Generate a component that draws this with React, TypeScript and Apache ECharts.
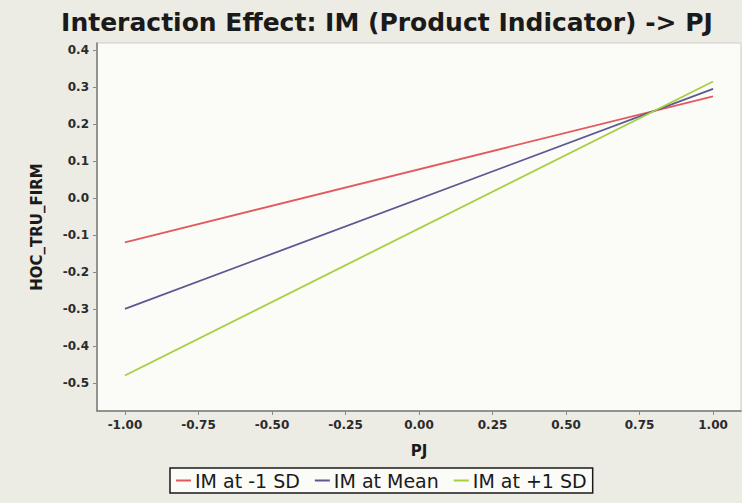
import React, { useEffect, useRef } from "react";
import * as echarts from "echarts";

const xValues = [-1, 1];
const lowSD = [-0.12, 0.275];
const meanIM = [-0.3, 0.295];
const highSD = [-0.48, 0.315];
const seriesNames = ["IM at -1 SD", "IM at Mean", "IM at +1 SD"];
const xTicks = [-1, -0.75, -0.5, -0.25, 0, 0.25, 0.5, 0.75, 1];
const yTicks = [-0.5, -0.4, -0.3, -0.2, -0.1, 0, 0.1, 0.2, 0.3, 0.4];

export default function App() {
  const ref = useRef<HTMLDivElement>(null);
  useEffect(() => {
    if (!ref.current) return;
    const chart = echarts.init(ref.current, undefined, { renderer: "svg" });
    const font = "DejaVu Sans";
    const mk = (vals: number[]) => xValues.map((x, i) => [x, vals[i]]);
    chart.setOption({
      animation: false,
      backgroundColor: "#ecebe4",
      title: {
        text: "Interaction Effect: IM (Product Indicator) -> PJ",
        left: 382,
        textAlign: "center",
        top: 5,
        textStyle: { fontFamily: font, fontWeight: "bold", fontSize: 25, color: "#1a1a1a" },
      },
      legend: {
        left: 170,
        top: 468,
        data: seriesNames,
        icon: "rect",
        itemWidth: 15,
        itemHeight: 2,
        itemGap: 15,
        borderColor: "#1a1a1a",
        borderWidth: 1.5,
        backgroundColor: "#fbfbf8",
        padding: [3, 6, 3, 6],
        textStyle: { fontFamily: font, fontSize: 19, color: "#1a1a1a", padding: [0, 0, 0, -1] },
      },
      grid: {
        left: 97,
        top: 43,
        right: 1,
        bottom: 92,
        show: true,
        backgroundColor: "#fbfbf8",
        borderColor: "#cfcfc8",
        borderWidth: 1,
      },
      xAxis: {
        type: "value",
        min: -1.095,
        max: 1.095,
        name: "PJ",
        nameLocation: "middle",
        nameGap: 32,
        nameTextStyle: { fontFamily: font, fontWeight: "bold", fontSize: 15, color: "#1a1a1a" },
        axisLine: { show: true, onZero: false, lineStyle: { color: "#777", width: 1.5 } },
        axisTick: { show: true, customValues: xTicks, length: 4, lineStyle: { color: "#888" } },
        axisLabel: {
          customValues: xTicks,
          formatter: (v: number) => v.toFixed(2),
          fontFamily: font,
          fontWeight: "bold",
          fontSize: 12,
          color: "#2a2a2a",
          margin: 8,
        },
        splitLine: { show: false },
      },
      yAxis: {
        type: "value",
        min: -0.576,
        max: 0.419,
        name: "HOC_TRU_FIRM",
        nameLocation: "middle",
        nameGap: 53,
        nameTextStyle: { fontFamily: font, fontWeight: "bold", fontSize: 15, color: "#1a1a1a" },
        axisLine: { show: true, onZero: false, lineStyle: { color: "#777", width: 1.5 } },
        axisTick: { show: true, customValues: yTicks, length: 4, lineStyle: { color: "#888" } },
        axisLabel: {
          customValues: yTicks,
          formatter: (v: number) => v.toFixed(1),
          fontFamily: font,
          fontWeight: "bold",
          fontSize: 12,
          color: "#2a2a2a",
          margin: 8,
        },
        splitLine: { show: false },
      },
      series: [
        { name: seriesNames[0], type: "line", data: mk(lowSD), showSymbol: false, lineStyle: { color: "#e25a5e", width: 1.8 }, itemStyle: { color: "#e25a5e" } },
        { name: seriesNames[1], type: "line", data: mk(meanIM), showSymbol: false, lineStyle: { color: "#5b5894", width: 1.8 }, itemStyle: { color: "#5b5894" } },
        { name: seriesNames[2], type: "line", data: mk(highSD), showSymbol: false, lineStyle: { color: "#a6cf3e", width: 1.8 }, itemStyle: { color: "#a6cf3e" } },
      ],
    });
    return () => chart.dispose();
  }, []);
  return <div ref={ref} style={{ position: "fixed", left: 0, top: 0, width: 742, height: 503 }} />;
}
